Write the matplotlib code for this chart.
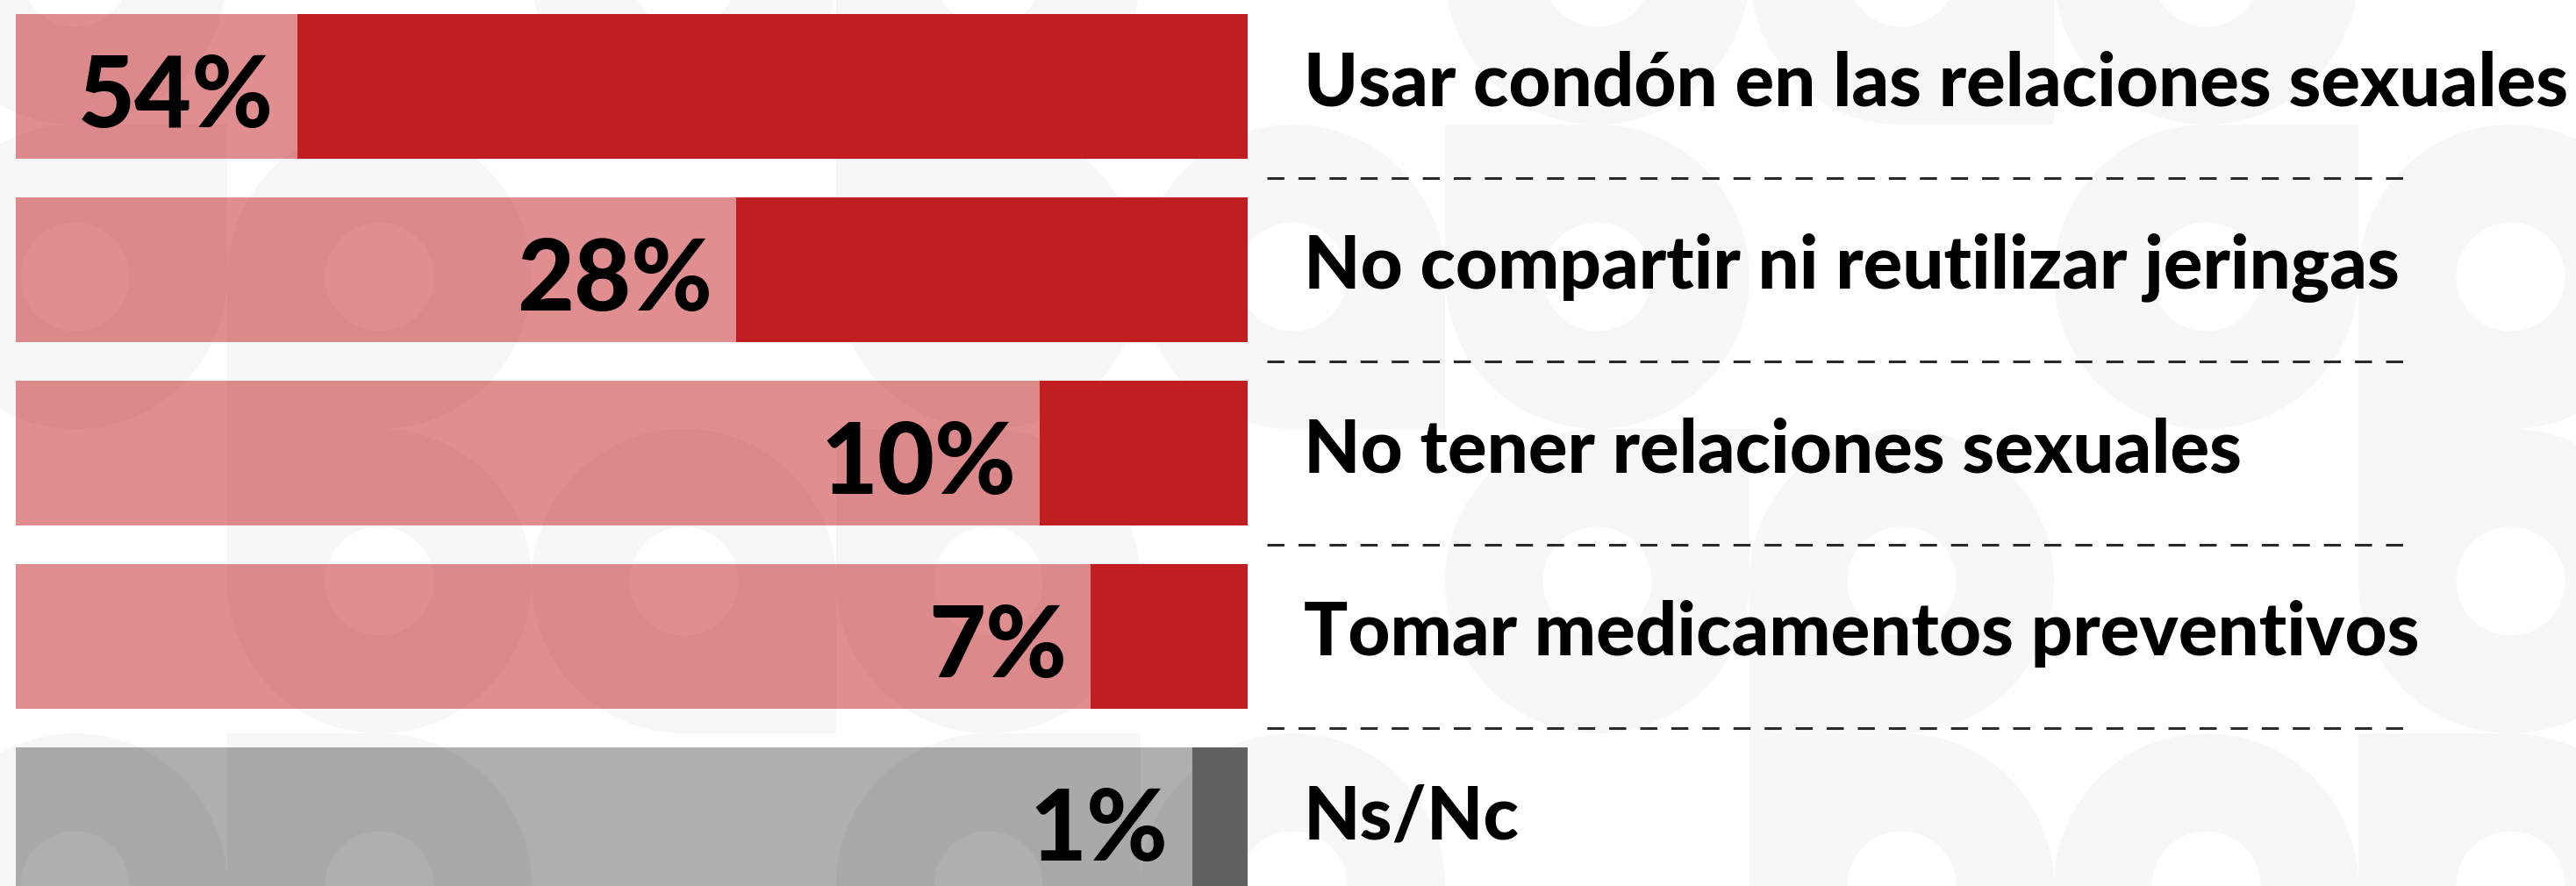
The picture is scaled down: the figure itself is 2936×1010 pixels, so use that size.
import matplotlib
matplotlib.use("Agg")
import matplotlib.pyplot as plt
from matplotlib.patches import Circle, Rectangle
from matplotlib.transforms import blended_transform_factory

# ---------------- data ----------------
categories = [
    "Usar condón en las relaciones sexuales",
    "No compartir ni reutilizar jeringas",
    "No tener relaciones sexuales",
    "Tomar medicamentos preventivos",
    "Ns/Nc",
]
values = [54, 28, 10, 7, 1]
value_labels = ["54%", "28%", "10%", "7%", "1%"]

# ---------------- style ----------------
W, H = 2936, 1010
RED = "#C01E21"
PINK = "#E08E8F"
PINK_PAT = "#DB898A"
DGRAY = "#616161"
LGRAY = "#AFAFAF"
LGRAY_PAT = "#A9A9A9"
PAT = "#F7F7F7"
light_cols = [PINK, PINK, PINK, PINK, LGRAY]
pat_cols = [PINK_PAT, PINK_PAT, PINK_PAT, PINK_PAT, LGRAY_PAT]
dark_cols = [RED, RED, RED, RED, DGRAY]

plt.rcParams["lines.scale_dashes"] = False

fig = plt.figure(figsize=(W / 100, H / 100), dpi=100)
fig.patch.set_facecolor("white")

# background (pixel coordinates) for decorative pattern
bg = fig.add_axes([0, 0, 1, 1])
bg.set_xlim(0, W)
bg.set_ylim(H, 0)
bg.axis("off")

BAR_LEFT, BAR_RIGHT = 18, 1422
ax = fig.add_axes([BAR_LEFT / W, 0, (BAR_RIGHT - BAR_LEFT) / W, 1])
ax.patch.set_alpha(0)
ax.axis("off")
SCALE_MAX = 73.0
PAD = 2.3
ax.set_xlim(SCALE_MAX, 0)
PITCH = 209.0
TOP_CENTER = 98.2
ax.set_ylim((H - TOP_CENTER) / PITCH, -TOP_CENTER / PITCH)
BAR_H = 165 / PITCH


# ---------------- decorative pattern (geometric letter shapes) ----------------
def pattern_shapes():
    CELL = 347
    X0, Y0 = 2688 - 8 * CELL, 142 - CELL
    R = CELL / 2
    HOLE = 62
    fills, holes = [], []
    for row in range(4):
        for col in range(9):
            cx = X0 + col * CELL + R
            cy = Y0 + row * CELL + R
            k = (col * 5 + row * 3) % 7
            if k >= 5:
                continue
            fills.append(("c", cx, cy, R))
            quads = [(k + q) % 4 == 0 for q in range(4)]
            offs = [(-R, -R), (0, -R), (0, 0), (-R, 0)]
            for q, on in enumerate(quads):
                if on:
                    fills.append(("r", cx + offs[q][0], cy + offs[q][1], R, R))
            holes.append(("c", cx, cy, HOLE))
    return fills, holes


def make_patch(s, color):
    if s[0] == "c":
        return Circle((s[1], s[2]), s[3], facecolor=color, edgecolor="none",
                      transform=bg.transData)
    return Rectangle((s[1], s[2]), s[3], s[4], facecolor=color,
                     edgecolor="none", transform=bg.transData)


fills, holes = pattern_shapes()
for s in fills:
    bg.add_patch(make_patch(s, PAT))
for s in holes:
    bg.add_patch(make_patch(s, "white"))

# ---------------- bars ----------------
ypos = list(range(len(categories)))
light = ax.barh(ypos, [SCALE_MAX] * len(values), height=BAR_H,
                color=light_cols, zorder=1)
for i, rect in enumerate(light.patches):
    for s, col in [(s, pat_cols[i]) for s in fills] + [(s, light_cols[i]) for s in holes]:
        p = make_patch(s, col)
        p.set_zorder(1.5)
        ax.add_artist(p)
        p.set_clip_path(rect)

dark_w = [v + PAD for v in values]
ax.barh(ypos, dark_w, height=BAR_H, color=dark_cols, zorder=2)

# ---------------- labels ----------------
fam = ["Lato", "DejaVu Sans"]
pct_texts = []
for i, (v, lab) in enumerate(zip(dark_w, value_labels)):
    t = ax.annotate(lab, xy=(v, i), xycoords="data", xytext=(-27, -47),
                    textcoords="offset pixels", ha="right", va="baseline",
                    fontsize=66, fontweight="black", family=fam, color="black",
                    zorder=3, annotation_clip=False)
    pct_texts.append(t)

lab_tr = blended_transform_factory(bg.transData, ax.transData)
cat_texts = []
for i, lab in enumerate(categories):
    t = ax.annotate(lab, xy=(1486, i), xycoords=lab_tr, xytext=(0, -22),
                    textcoords="offset pixels", ha="left", va="baseline",
                    fontsize=48, fontweight="black", family=fam, color="black",
                    zorder=3, annotation_clip=False)
    cat_texts.append(t)

# separators
for i in range(len(categories) - 1):
    ax.plot([1444, 2740], [i + 0.5, i + 0.5], transform=lab_tr, color="#2a2a2a",
            linewidth=2.2, dashes=(14, 11.5), clip_on=False, zorder=3,
            solid_capstyle="butt", dash_capstyle="butt")

# fit text widths to the reference layout
fig.canvas.draw()
r = fig.canvas.get_renderer()
w_cat = cat_texts[0].get_window_extent(r).width
sc = 1442 / w_cat
for t in cat_texts:
    t.set_fontsize(t.get_fontsize() * sc)
w_pct = pct_texts[0].get_window_extent(r).width
sp = 223 / w_pct
for t in pct_texts:
    t.set_fontsize(t.get_fontsize() * sp)

fig.savefig("out.png", dpi=100, facecolor="white")
